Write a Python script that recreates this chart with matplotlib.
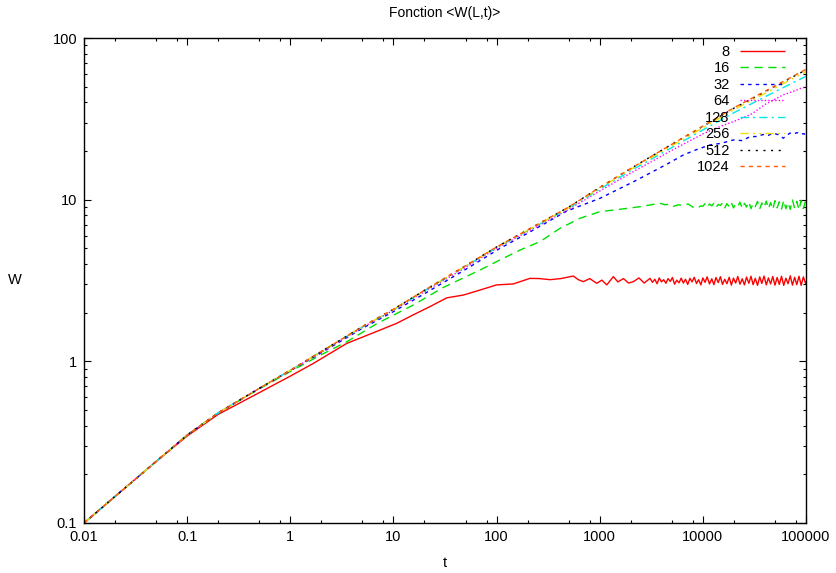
import matplotlib
matplotlib.use("Agg")
import matplotlib.pyplot as plt
from matplotlib.ticker import LogLocator, FixedLocator, NullFormatter, FixedFormatter

plt.rcParams['font.family'] = ['Liberation Sans', 'DejaVu Sans']

# ---------------- data ----------------
sizes = ["8", "16", "32", "64", "128", "256", "512", "1024"]

t_8 = [0.01, 0.02, 0.05, 0.1, 0.2, 0.5, 1, 1.67, 3.52, 7.4, 10.8, 15.6, 22.6, 32.9, 47.6, 69, 100, 145, 211,
       260, 330, 420, 555, 620, 693, 800, 935, 1050, 1170, 1355, 1500, 1700, 1900, 2120, 2400, 2700,
       3075, 3250, 3420, 3600, 3780, 3970, 4170, 4380, 4600, 4830,
       5070, 5320, 5590, 5870, 6160, 6470, 6790, 7130, 7490, 7860,
       8250, 8670, 9100, 9560, 10000, 10500, 11000, 11600, 12200, 12800,
       13400, 14100, 14800, 15500, 16300, 17100, 18000, 18900, 19800, 20800,
       21800, 22900, 24100, 25300, 26500, 27900, 29300, 30700, 32200, 33900,
       35600, 37300, 39200, 41200, 43200, 45400, 47600, 50000, 52500, 55100,
       57900, 60800, 63800, 67000, 70400, 73900, 77600, 81400, 85500, 89800,
       94300, 99000, 100000]
w_8 = [0.1, 0.146, 0.24, 0.345, 0.47, 0.64, 0.81, 0.97, 1.29, 1.56, 1.72, 1.94, 2.18, 2.47, 2.57, 2.76, 2.97, 3.01, 3.26,
       3.25, 3.20, 3.25, 3.37, 3.20, 3.11, 3.25, 3.04, 3.18, 2.97, 3.34, 3.10, 3.25, 3.05, 3.11, 3.28, 3.05,
       3.26, 3.08, 3.22, 3.02, 3.28, 3.10, 3.20, 3.04, 3.25, 3.12,
       3.30, 3.00, 3.18, 3.06, 3.27, 3.05, 3.22, 2.99, 3.26, 3.10,
       3.31, 3.03, 3.20, 2.97, 3.28, 3.08, 3.33, 3.01, 3.24, 2.98,
       3.30, 3.07, 3.34, 2.99, 3.22, 3.02, 3.31, 2.96, 3.27, 3.05,
       3.35, 3.00, 3.24, 2.97, 3.32, 3.04, 3.36, 2.98, 3.26, 2.95,
       3.33, 3.03, 3.37, 2.97, 3.28, 3.01, 3.35, 2.96, 3.30, 2.99,
       3.36, 2.95, 3.27, 3.02, 3.38, 2.96, 3.31, 2.98, 3.36, 2.95,
       3.33, 3.04, 3.12]

t_16 = [0.01, 0.02, 0.05, 0.1, 0.2, 0.5, 1, 2, 3.52, 7, 15.6, 30, 69, 108, 169, 264, 412, 644, 1007, 1573, 2460,
        3845, 4300, 4800, 5200, 5800, 6470, 7200, 8000, 8900, 9500,
        10000, 10500, 11000, 11600, 12200, 12800, 13400, 14100, 14800, 15500,
        16300, 17100, 18000, 18900, 19800, 20800, 21800, 22900, 24100, 25300,
        26500, 27900, 29300, 30700, 32200, 33900, 35600, 37300, 39200, 41200,
        43200, 45400, 47600, 50000, 52500, 55100, 57900, 60800, 63800, 67000,
        70400, 73900, 77600, 81400, 85500, 89800, 94300, 99000, 100000]
w_16 = [0.1, 0.146, 0.24, 0.35, 0.48, 0.675, 0.865, 1.1, 1.32, 1.72, 2.23, 2.85, 3.67, 4.24, 4.88, 5.5, 6.65, 7.67, 8.43, 8.72, 9.05,
        9.5, 9.3, 9.4, 9.1, 9.3, 9.2, 9.4, 9.0, 8.85, 9.15,
        9.1, 9.45, 9.0, 9.4, 9.15, 9.5, 8.95, 9.35, 9.2, 9.55,
        8.9, 9.45, 9.05, 9.6, 8.9, 9.4, 9.1, 9.65, 8.85, 9.5,
        9.0, 9.7, 8.8, 9.45, 9.05, 9.75, 8.75, 9.55, 8.95, 9.8,
        8.8, 9.6, 8.7, 9.85, 8.9, 9.7, 8.75, 9.9, 8.8, 9.6,
        8.7, 9.95, 8.85, 9.75, 8.65, 9.9, 8.8, 9.85, 9.2]

t_32 = [0.01, 0.02, 0.05, 0.1, 0.2, 0.5, 1, 2, 5, 10, 20, 50, 108, 200, 479, 1007, 2120, 3075, 4500, 6470, 8500,
        11700, 15000, 19700, 24000, 28650, 33000, 38600, 43000, 48200, 54000, 60300, 65000, 70000, 76000,
        82000, 88000, 95000, 100000]
w_32 = [0.1, 0.146, 0.24, 0.35, 0.48, 0.68, 0.875, 1.13, 1.6, 2.03, 2.62, 3.7, 5.0, 6.2, 8.5, 10.2, 12.9, 14.6, 16.6, 18.9, 20.3,
        21.8, 22.3, 23.4, 23.2, 24.5, 24.6, 25.3, 25.0, 25.8, 25.2, 24.0, 25.0, 25.8, 25.5,
        26.0, 25.4, 25.6, 25.2]

t_64 = [0.01, 0.02, 0.05, 0.1, 0.2, 0.5, 1, 2, 5, 10, 20, 50, 100, 200, 500, 1000, 2000, 5000, 10000, 15000, 20000,
        25000, 30000, 35000, 40000, 50000, 60000, 70000, 80000, 90000, 100000]
w_64 = [0.1, 0.146, 0.24, 0.35, 0.48, 0.68, 0.88, 1.14, 1.62, 2.07, 2.7, 3.8, 5.0, 6.35, 8.7, 11.3, 14.6, 20.2, 25.5, 28.5, 30.5,
        32.3, 34.0, 36.5, 38.8, 41.8, 44.5, 46.0, 47.5, 49.0, 50.0]

t_128 = [0.01, 0.02, 0.05, 0.1, 0.2, 0.5, 1, 2, 5, 10, 20, 50, 100, 200, 500, 1000, 2000, 5000, 10000, 20000, 50000, 100000]
w_128 = [0.1, 0.146, 0.24, 0.35, 0.48, 0.68, 0.88, 1.15, 1.63, 2.08, 2.73, 3.86, 5.05, 6.42, 8.85, 11.6, 15.1, 21.0, 27.0, 34.5, 46.5, 58.0]

t_256 = [0.01, 0.02, 0.05, 0.1, 0.2, 0.5, 1, 2, 5, 10, 20, 50, 100, 200, 500, 1000, 2000, 5000, 10000, 20000, 50000, 100000]
w_256 = [0.1, 0.146, 0.24, 0.35, 0.48, 0.68, 0.88, 1.15, 1.64, 2.09, 2.74, 3.88, 5.08, 6.46, 8.92, 11.8, 15.4, 21.6, 27.8, 36.0, 49.0, 62.0]

t_512 = [0.01, 0.02, 0.05, 0.1, 0.2, 0.5, 1, 2, 5, 10, 20, 50, 100, 200, 500, 1000, 2000, 5000, 10000, 20000, 50000, 100000]
w_512 = [0.1, 0.146, 0.24, 0.35, 0.48, 0.68, 0.88, 1.15, 1.64, 2.1, 2.75, 3.9, 5.1, 6.5, 9.0, 11.9, 15.6, 22.0, 28.4, 36.8, 50.2, 63.5]

t_1024 = [0.01, 0.02, 0.05, 0.1, 0.2, 0.5, 1, 2, 5, 10, 20, 50, 100, 200, 500, 1000, 2000, 5000, 10000, 20000, 50000, 100000]
w_1024 = [0.1, 0.146, 0.24, 0.35, 0.48, 0.68, 0.88, 1.15, 1.64, 2.1, 2.75, 3.9, 5.1, 6.5, 9.0, 11.9, 15.6, 22.0, 28.5, 37.0, 50.5, 64.0]

x_ticks = [0.01, 0.1, 1, 10, 100, 1000, 10000, 100000]
x_tick_labels = ["0.01", "0.1", "1", "10", "100", "1000", "10000", "100000"]
y_ticks = [0.1, 1, 10, 100]
y_tick_labels = ["0.1", "1", "10", "100"]

# ---------------- styles ----------------
series = [
    (t_8, w_8, '#ff0000', (0, ())),
    (t_16, w_16, '#00e000', (0, (6, 4))),
    (t_32, w_32, '#0000ff', (0, (2.5, 3))),
    (t_64, w_64, '#ff00ff', (0, (1, 1.5))),
    (t_128, w_128, '#00e8e8', (0, (6, 3, 1.5, 3))),
    (t_256, w_256, '#f0e000', (0, (6, 3, 1.5, 3, 1.5, 3))),
    (t_512, w_512, '#000000', (0, (1.5, 4))),
    (t_1024, w_1024, '#ff5a00', (0, (3, 3))),
]

W, H = 837, 573
fig = plt.figure(figsize=(W / 100, H / 100), dpi=100)
ax = fig.add_axes([84 / W, 1 - 523 / H, (806 - 84) / W, (523 - 38) / H])

for (t, w, c, ls), lab in zip(series, sizes):
    ax.plot(t, w, color=c, linestyle=ls, linewidth=1.0, label=lab)

ax.set_xscale('log')
ax.set_yscale('log')
ax.set_xlim(0.01, 100000)
ax.set_ylim(0.1, 100)

ax.xaxis.set_major_locator(FixedLocator(x_ticks))
ax.xaxis.set_major_formatter(FixedFormatter(x_tick_labels))
ax.xaxis.set_minor_locator(LogLocator(base=10, subs=(2, 5, 8), numticks=20))
ax.xaxis.set_minor_formatter(NullFormatter())
ax.yaxis.set_major_locator(FixedLocator(y_ticks))
ax.yaxis.set_major_formatter(FixedFormatter(y_tick_labels))
ax.yaxis.set_minor_locator(LogLocator(base=10, subs=(2, 3, 4, 5, 6, 7, 8, 9), numticks=20))
ax.yaxis.set_minor_formatter(NullFormatter())

ax.tick_params(which='both', direction='in', top=True, right=True, width=0.8, colors='black',
               labelsize=10.5, pad=5)
ax.tick_params(which='major', length=5)
ax.tick_params(which='minor', length=2.5)
for s in ax.spines.values():
    s.set_linewidth(1.0)
    s.set_color('black')

leg = ax.legend(loc='upper right', bbox_to_anchor=(0.971, 0.986), frameon=False, markerfirst=False,
                fontsize=10.5, handlelength=3.1, handletextpad=0.7, labelspacing=0.17,
                borderpad=0, borderaxespad=0)

fig.text(445 / W, 1 - 13 / H, "Fonction <W(L,t)>", ha='center', va='center', fontsize=10)
fig.text(15 / W, 1 - 280 / H, "W", ha='center', va='center', fontsize=10.5)
fig.text(445 / W, 1 - 563 / H, "t", ha='center', va='center', fontsize=10.5)

fig.savefig("out.png", dpi=100)
